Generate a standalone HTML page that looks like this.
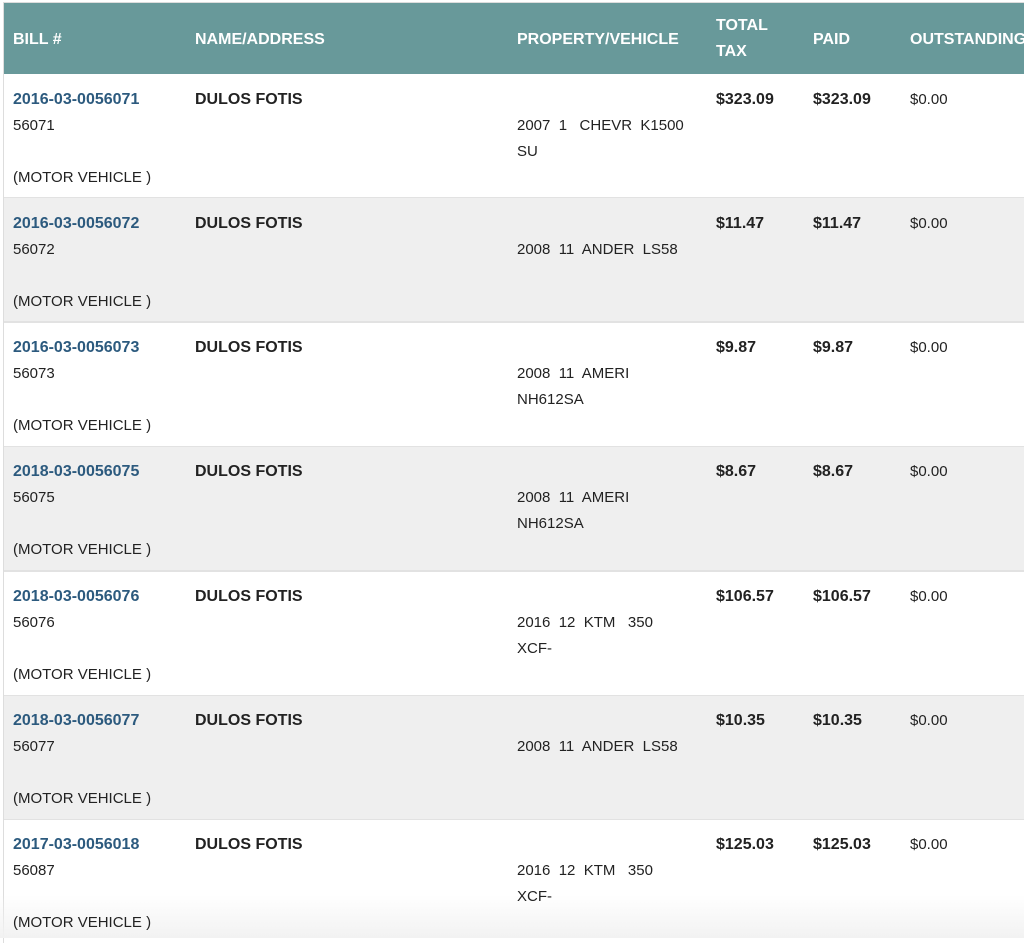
<!DOCTYPE html>
<html><head><meta charset="utf-8"><style>
html,body{margin:0;padding:0;width:1024px;height:938px;overflow:hidden;background:#fff;font-family:"Liberation Sans",Arial,sans-serif;}
.wrap{position:absolute;left:3px;top:2px;width:1030px;height:940px;border-left:1px solid #ddd;border-top:1px solid #ddd;}
.hdr{position:absolute;left:4px;top:3px;width:1020px;height:71px;background:#68999a;}
.row{position:absolute;left:4px;width:1020px;height:123px;border-bottom:2px solid #e2e2e2;}
.t{position:absolute;font-size:15px;line-height:26px;color:#222;white-space:nowrap;}
.h{color:#fff;font-weight:bold;font-size:16px;}
.b{font-weight:bold;font-size:16px;}
.l{color:#2c5a7e;font-weight:bold;font-size:16px;}
.fade{position:absolute;left:0;top:895px;width:1024px;height:43px;background:linear-gradient(rgba(244,244,244,0),rgba(242,242,242,1));}
.g{position:absolute;left:0;}
</style></head><body>
<div class="wrap"></div>
<div class="hdr"></div>
<div class="t h" style="left:13px;top:27px">BILL #</div>
<div class="t h" style="left:195px;top:27px">NAME/ADDRESS</div>
<div class="t h" style="left:517px;top:27px">PROPERTY/VEHICLE</div>
<div class="t h" style="left:716px;top:13px">TOTAL<br>TAX</div>
<div class="t h" style="left:813px;top:27px">PAID</div>
<div class="t h" style="left:910px;top:27px">OUTSTANDING</div>

<div class="row" style="top:74px;background:#fff"></div>
<div class="row" style="top:198px;background:#efefef"></div>
<div class="row" style="top:323px;background:#fff"></div>
<div class="row" style="top:447px;background:#efefef"></div>
<div class="row" style="top:572px;background:#fff"></div>
<div class="row" style="top:696px;background:#efefef"></div>
<div class="row" style="top:820px;background:#fff;border:none"></div>
<div class="fade"></div>

<div class="g" style="top:87px">
<div class="t l" style="left:13px;top:0">2016-03-0056071</div><div class="t" style="left:13px;top:26px">56071</div><div class="t" style="left:13px;top:78px">(MOTOR VEHICLE )</div>
<div class="t b" style="left:195px;top:0">DULOS FOTIS</div>
<div class="t" style="left:517px;top:26px">2007&nbsp; 1&nbsp;&nbsp; CHEVR&nbsp; K1500<br>SU</div>
<div class="t b" style="left:716px;top:0">$323.09</div><div class="t b" style="left:813px;top:0">$323.09</div><div class="t" style="left:910px;top:0">$0.00</div>
</div>
<div class="g" style="top:211px">
<div class="t l" style="left:13px;top:0">2016-03-0056072</div><div class="t" style="left:13px;top:26px">56072</div><div class="t" style="left:13px;top:78px">(MOTOR VEHICLE )</div>
<div class="t b" style="left:195px;top:0">DULOS FOTIS</div>
<div class="t" style="left:517px;top:26px">2008&nbsp; 11&nbsp; ANDER&nbsp; LS58</div>
<div class="t b" style="left:716px;top:0">$11.47</div><div class="t b" style="left:813px;top:0">$11.47</div><div class="t" style="left:910px;top:0">$0.00</div>
</div>
<div class="g" style="top:335px">
<div class="t l" style="left:13px;top:0">2016-03-0056073</div><div class="t" style="left:13px;top:26px">56073</div><div class="t" style="left:13px;top:78px">(MOTOR VEHICLE )</div>
<div class="t b" style="left:195px;top:0">DULOS FOTIS</div>
<div class="t" style="left:517px;top:26px">2008&nbsp; 11&nbsp; AMERI<br>NH612SA</div>
<div class="t b" style="left:716px;top:0">$9.87</div><div class="t b" style="left:813px;top:0">$9.87</div><div class="t" style="left:910px;top:0">$0.00</div>
</div>
<div class="g" style="top:459px">
<div class="t l" style="left:13px;top:0">2018-03-0056075</div><div class="t" style="left:13px;top:26px">56075</div><div class="t" style="left:13px;top:78px">(MOTOR VEHICLE )</div>
<div class="t b" style="left:195px;top:0">DULOS FOTIS</div>
<div class="t" style="left:517px;top:26px">2008&nbsp; 11&nbsp; AMERI<br>NH612SA</div>
<div class="t b" style="left:716px;top:0">$8.67</div><div class="t b" style="left:813px;top:0">$8.67</div><div class="t" style="left:910px;top:0">$0.00</div>
</div>
<div class="g" style="top:584px">
<div class="t l" style="left:13px;top:0">2018-03-0056076</div><div class="t" style="left:13px;top:26px">56076</div><div class="t" style="left:13px;top:78px">(MOTOR VEHICLE )</div>
<div class="t b" style="left:195px;top:0">DULOS FOTIS</div>
<div class="t" style="left:517px;top:26px">2016&nbsp; 12&nbsp; KTM&nbsp;&nbsp; 350<br>XCF-</div>
<div class="t b" style="left:716px;top:0">$106.57</div><div class="t b" style="left:813px;top:0">$106.57</div><div class="t" style="left:910px;top:0">$0.00</div>
</div>
<div class="g" style="top:708px">
<div class="t l" style="left:13px;top:0">2018-03-0056077</div><div class="t" style="left:13px;top:26px">56077</div><div class="t" style="left:13px;top:78px">(MOTOR VEHICLE )</div>
<div class="t b" style="left:195px;top:0">DULOS FOTIS</div>
<div class="t" style="left:517px;top:26px">2008&nbsp; 11&nbsp; ANDER&nbsp; LS58</div>
<div class="t b" style="left:716px;top:0">$10.35</div><div class="t b" style="left:813px;top:0">$10.35</div><div class="t" style="left:910px;top:0">$0.00</div>
</div>
<div class="g" style="top:832px">
<div class="t l" style="left:13px;top:0">2017-03-0056018</div><div class="t" style="left:13px;top:26px">56087</div><div class="t" style="left:13px;top:78px">(MOTOR VEHICLE )</div>
<div class="t b" style="left:195px;top:0">DULOS FOTIS</div>
<div class="t" style="left:517px;top:26px">2016&nbsp; 12&nbsp; KTM&nbsp;&nbsp; 350<br>XCF-</div>
<div class="t b" style="left:716px;top:0">$125.03</div><div class="t b" style="left:813px;top:0">$125.03</div><div class="t" style="left:910px;top:0">$0.00</div>
</div>
</body></html>
